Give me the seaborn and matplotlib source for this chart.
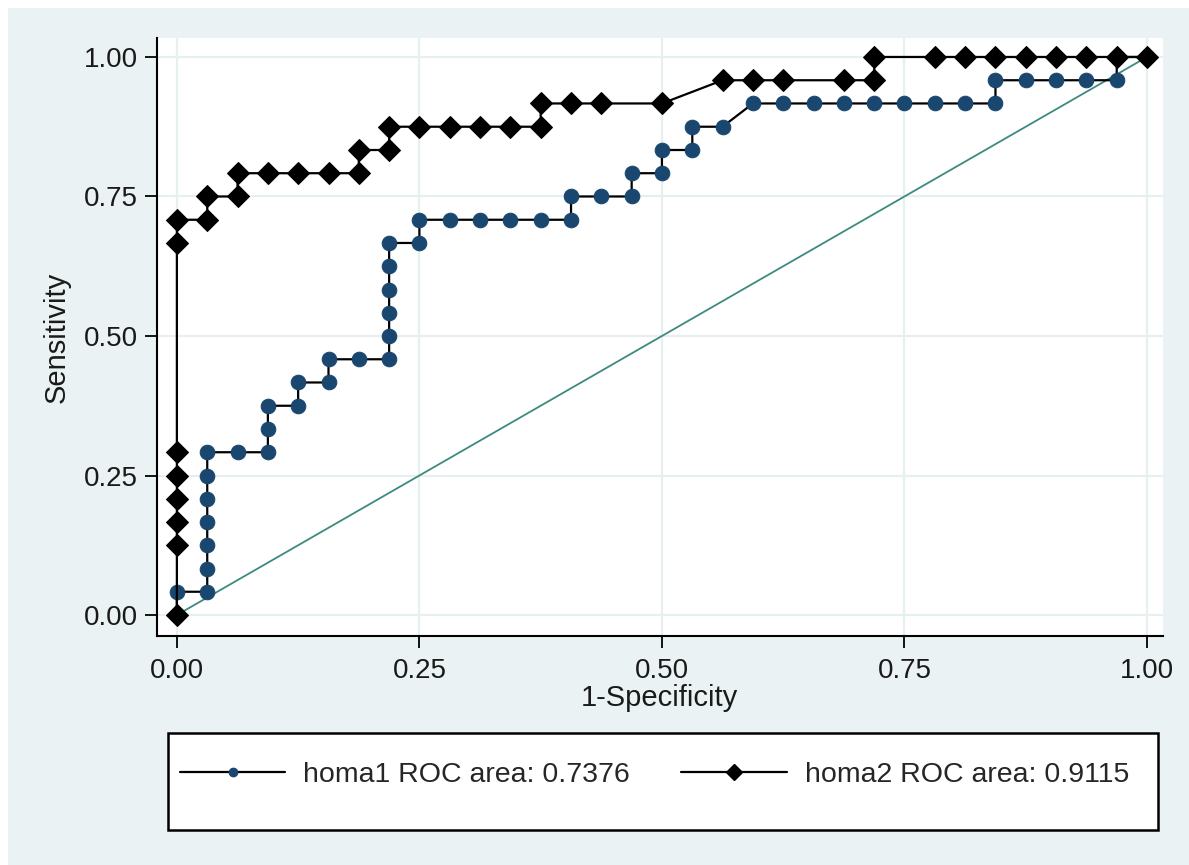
import matplotlib
matplotlib.use("Agg")
import matplotlib.pyplot as plt
from matplotlib.lines import Line2D
from matplotlib.patches import Rectangle
import seaborn as sns
import pandas as pd

# ---- data ----
homa1_fpr = [0.0, 0.0, 0.0313, 0.0313, 0.0313, 0.0313, 0.0313, 0.0313, 0.0313, 0.0625,
             0.0938, 0.0938, 0.0938, 0.125, 0.125, 0.1563, 0.1563, 0.1875, 0.2188, 0.2188,
             0.2188, 0.2188, 0.2188, 0.2188, 0.25, 0.25, 0.2813, 0.3125, 0.3438, 0.375,
             0.4063, 0.4063, 0.4375, 0.4688, 0.4688, 0.5, 0.5, 0.5313, 0.5313, 0.5625,
             0.5938, 0.625, 0.6563, 0.6875, 0.7188, 0.75, 0.7813, 0.8125, 0.8438, 0.8438,
             0.875, 0.9063, 0.9375, 0.9688, 0.9688, 1.0]
homa1_tpr = [0.0, 0.0417, 0.0417, 0.0833, 0.125, 0.1667, 0.2083, 0.25, 0.2917, 0.2917,
             0.2917, 0.3333, 0.375, 0.375, 0.4167, 0.4167, 0.4583, 0.4583, 0.4583, 0.5,
             0.5417, 0.5833, 0.625, 0.6667, 0.6667, 0.7083, 0.7083, 0.7083, 0.7083, 0.7083,
             0.7083, 0.75, 0.75, 0.75, 0.7917, 0.7917, 0.8333, 0.8333, 0.875, 0.875,
             0.9167, 0.9167, 0.9167, 0.9167, 0.9167, 0.9167, 0.9167, 0.9167, 0.9167, 0.9583,
             0.9583, 0.9583, 0.9583, 0.9583, 1.0, 1.0]

homa2_fpr = [0.0, 0.0, 0.0, 0.0, 0.0, 0.0, 0.0, 0.0, 0.0313, 0.0313,
             0.0625, 0.0625, 0.0938, 0.125, 0.1563, 0.1875, 0.1875, 0.2188, 0.2188, 0.25,
             0.2813, 0.3125, 0.3438, 0.375, 0.375, 0.4063, 0.4375, 0.5, 0.5625, 0.5938,
             0.625, 0.6875, 0.7188, 0.7188, 0.7813, 0.8125, 0.8438, 0.875, 0.9063, 0.9375,
             0.9688, 1.0]
homa2_tpr = [0.0, 0.125, 0.1667, 0.2083, 0.25, 0.2917, 0.6667, 0.7083, 0.7083, 0.75,
             0.75, 0.7917, 0.7917, 0.7917, 0.7917, 0.7917, 0.8333, 0.8333, 0.875, 0.875,
             0.875, 0.875, 0.875, 0.875, 0.9167, 0.9167, 0.9167, 0.9167, 0.9583, 0.9583,
             0.9583, 0.9583, 0.9583, 1.0, 1.0, 1.0, 1.0, 1.0, 1.0, 1.0,
             1.0, 1.0]

ref_x = [0.0, 1.0]
ref_y = [0.0, 1.0]

tick_vals = [0.0, 0.25, 0.5, 0.75, 1.0]
tick_labels = ["0.00", "0.25", "0.50", "0.75", "1.00"]
legend_labels = ["homa1 ROC area: 0.7376", "homa2 ROC area: 0.9115"]
x_title = "1-Specificity"
y_title = "Sensitivity"

# ---- style ----
sns.set_style("white")
plt.rcParams["font.family"] = ["Liberation Sans", "DejaVu Sans"]

BG = "#eaf2f3"
NAVY = "#1a476f"
TEAL = "#3d8a7e"
GRID = "#e6f0f1"
TXT = "#1a1a1a"

W, H = 1189, 865
fig = plt.figure(figsize=(W / 100, H / 100), dpi=100, facecolor=BG)
fig.add_artist(Rectangle((0, 1 - 8 / H), 1, 8 / H, transform=fig.transFigure,
                         facecolor="white", edgecolor="none", zorder=0))
fig.add_artist(Rectangle((0, 0), 8 / W, 1, transform=fig.transFigure,
                         facecolor="white", edgecolor="none", zorder=0))

left, right, bottom, top = 156.5 / W, 1163 / W, 1 - 636 / H, 1 - 38 / H
ax = fig.add_axes([left, bottom, right - left, top - bottom])
ax.set_facecolor("white")

df1 = pd.DataFrame({"fpr": homa1_fpr, "tpr": homa1_tpr})
df2 = pd.DataFrame({"fpr": homa2_fpr, "tpr": homa2_tpr})
dref = pd.DataFrame({"x": ref_x, "y": ref_y})

sns.lineplot(data=dref, x="x", y="y", ax=ax, color=TEAL, lw=1.3, sort=False,
             estimator=None, zorder=2)
sns.lineplot(data=df1, x="fpr", y="tpr", ax=ax, sort=False, estimator=None,
             color="black", lw=1.6, marker="o", markersize=10.5,
             markerfacecolor=NAVY, markeredgecolor=NAVY, zorder=3)
sns.lineplot(data=df2, x="fpr", y="tpr", ax=ax, sort=False, estimator=None,
             color="black", lw=1.6, marker="D", markersize=11.5,
             markerfacecolor="black", markeredgecolor="black", zorder=4)

ax.set_xlim(-0.021, 1.0165)
ax.set_ylim(-0.0376, 1.034)
ax.set_xticks(tick_vals)
ax.set_xticklabels(tick_labels)
ax.set_yticks(tick_vals)
ax.set_yticklabels(tick_labels)
ax.grid(True, color=GRID, lw=1.6, zorder=0)
ax.set_axisbelow(True)

for s in ["top", "right"]:
    ax.spines[s].set_visible(False)
for s in ["left", "bottom"]:
    ax.spines[s].set_color("black")
    ax.spines[s].set_linewidth(1.5)

ax.tick_params(axis="x", which="major", direction="out", length=8.5, width=1.3,
               color="black", labelsize=20, labelcolor=TXT, pad=7, bottom=True)
ax.tick_params(axis="y", which="major", direction="out", length=8.5, width=1.3,
               color="black", labelsize=20, labelcolor=TXT, pad=5, left=True)
ax.set_xlabel(x_title, fontsize=21, color=TXT, labelpad=0)
ax.set_ylabel(y_title, fontsize=21, color=TXT, labelpad=9)

# legend box
lx0, lx1, ly0, ly1 = 168 / W, 1158 / W, 1 - 830 / H, 1 - 733 / H
fig.add_artist(Rectangle((lx0, ly0), lx1 - lx0, ly1 - ly0, transform=fig.transFigure,
                         facecolor="white", edgecolor="black", lw=1.8, zorder=1))
handles = [
    Line2D([], [], color="black", lw=1.6, marker="o", markersize=6,
           markerfacecolor=NAVY, markeredgecolor=NAVY),
    Line2D([], [], color="black", lw=1.6, marker="D", markersize=8,
           markerfacecolor="black", markeredgecolor="black"),
]
fig.legend(handles, legend_labels, loc="center left",
           bbox_to_anchor=(180 / W, 1 - 775 / H), frameon=False, ncol=2,
           fontsize=20.5, handlelength=3.7, handletextpad=0.63, columnspacing=1.8,
           borderaxespad=0, borderpad=0)

fig.savefig("out.png", dpi=100, facecolor=BG)
